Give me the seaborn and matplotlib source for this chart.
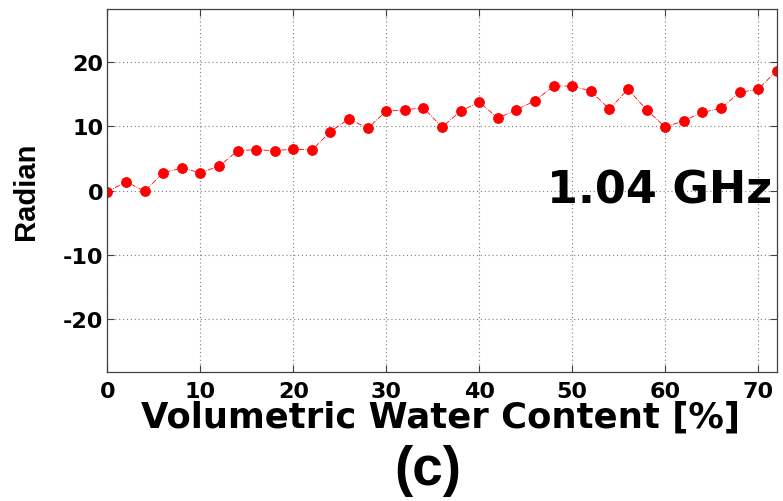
import matplotlib
matplotlib.use("Agg")
import matplotlib.pyplot as plt
from matplotlib.font_manager import FontProperties
import seaborn as sns
import pandas as pd

water_content = [0, 2, 4, 6, 8, 10, 12, 14, 16, 18, 20, 22, 24, 26, 28, 30, 32, 34, 36,
                 38, 40, 42, 44, 46, 48, 50, 52, 54, 56, 58, 60, 62, 64, 66, 68, 70, 72]
radian = [-0.2, 1.4, -0.1, 2.8, 3.5, 2.8, 3.8, 6.2, 6.4, 6.2, 6.5, 6.3, 9.2, 11.2, 9.7,
          12.4, 12.6, 12.9, 9.9, 12.4, 13.8, 11.3, 12.6, 14.0, 16.3, 16.3, 15.5, 12.7,
          15.8, 12.6, 9.9, 10.9, 12.2, 12.8, 15.3, 15.8, 18.7]
x_ticks = [0, 10, 20, 30, 40, 50, 60, 70]
y_ticks = [-20, -10, 0, 10, 20]

sns.set_style("white")
plt.rcParams["font.family"] = ["DejaVu Sans"]
plt.rcParams["font.weight"] = "bold"
plt.rcParams["text.color"] = "black"
plt.rcParams["xtick.color"] = "black"
plt.rcParams["ytick.color"] = "black"

arial_like_21 = FontProperties(family="Liberation Sans", weight="bold", size=21)
arial_like_40 = FontProperties(family="Liberation Sans", weight="bold", size=39.5)

df = pd.DataFrame({"wc": water_content, "rad": radian})

fig = plt.figure(figsize=(7.83, 5.02), dpi=100)
ax = fig.add_axes([0.1371, 0.2564, 0.8549, 0.7237])

sns.lineplot(data=df, x="wc", y="rad", ax=ax, color="red", linestyle="-.",
             linewidth=0.6, marker="o", markersize=7, markeredgecolor="red",
             markerfacecolor="red")

ax.set_xlim(0, 72)
ax.set_ylim(-28.3, 28.3)
ax.set_xticks(x_ticks)
ax.set_yticks(y_ticks)
ax.set_xticklabels([str(t) for t in x_ticks], fontsize=16, fontweight="bold")
ax.set_yticklabels([str(t) for t in y_ticks], fontsize=16, fontweight="bold")

ax.grid(True, color="#7f7f7f", linestyle=(0, (1, 2.5)), linewidth=0.8)
ax.tick_params(direction="in", length=5, width=0.8, color="#404040",
               labelcolor="black", top=True, right=True, bottom=True, left=True)
ax.tick_params(axis="y", pad=3)
ax.tick_params(axis="x", pad=6)
for side in ax.spines.values():
    side.set_color("#404040")
    side.set_linewidth(0.9)

ax.set_xlabel("Volumetric Water Content [%]", fontsize=25.5, fontweight="bold",
              color="black")
ax.xaxis.set_label_coords(0.4978, -0.1506)
ax.xaxis.label.set_va("baseline")

ax.set_ylabel("Radian", color="black", fontproperties=arial_like_21)
ax.yaxis.set_label_coords(-0.1215, 0.502)
ax.yaxis.label.set_va("center")

ax.text(0.993, 0.468, "1.04 GHz", transform=ax.transAxes, ha="right", va="baseline",
        fontsize=32, fontweight="bold", color="black")
fig.text(427.5 / 783, 1 - 485 / 502, "(c)", ha="center", va="baseline",
         color="black", fontproperties=arial_like_40)

fig.savefig("out.png", dpi=100)
